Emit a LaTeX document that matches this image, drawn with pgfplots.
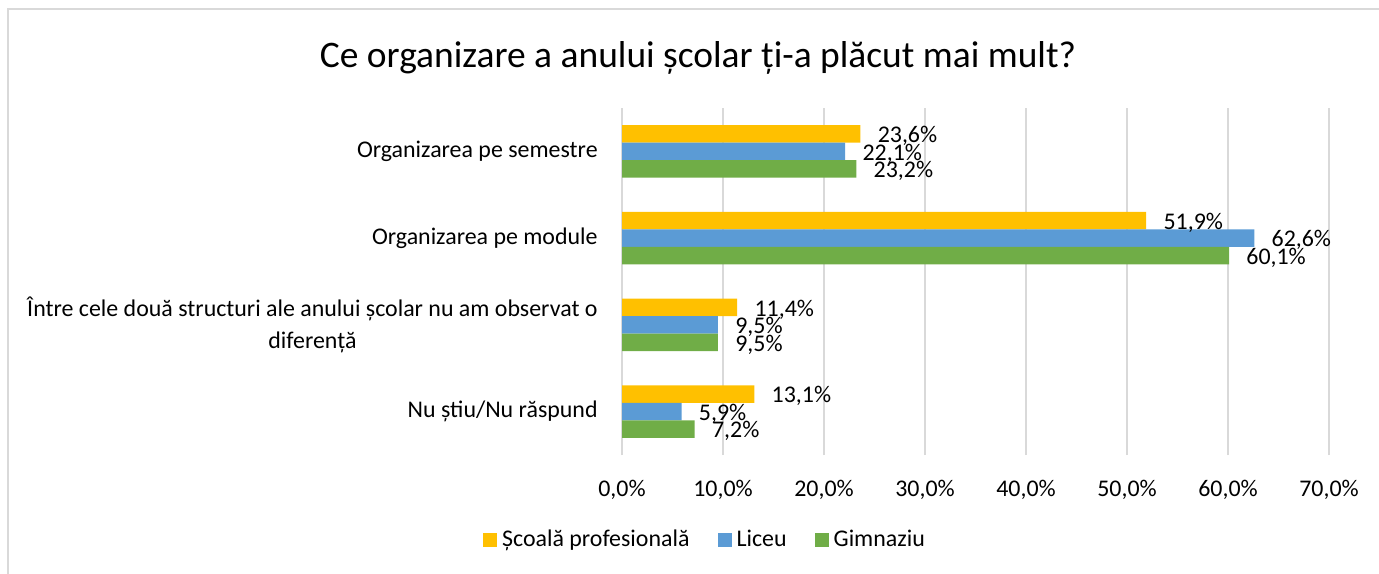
\documentclass[border=0pt]{standalone}
\usepackage{pgfplots}
\pgfplotsset{compat=1.18}
\usepackage{fontspec}
\setmainfont{Carlito}

\definecolor{cy}{HTML}{FFC000}
\definecolor{cb}{HTML}{5B9BD5}
\definecolor{cg}{HTML}{70AD47}
\definecolor{gridc}{HTML}{D9D9D9}

\pgfplotsset{sqlegend/.style={legend image code/.code={\fill[#1] (0bp,-3.5bp) rectangle (7bp,3.5bp);}}}

% cat: 3 = top category
\pgfplotstableread{
cat yel blu gre
3 23.6 22.1 23.2
2 51.9 62.6 60.1
1 11.4 9.5 9.5
0 13.1 5.9 7.2
}\datatable

\begin{document}
\begin{tikzpicture}
\path[use as bounding box] (0bp,0bp) rectangle (689.5bp,287bp);
\draw[gridc, line width=1bp] (4bp,0bp) -- (4bp,282.5bp) -- (689.5bp,282.5bp);
\node[font=\fontsize{18.8}{22}\selectfont] at (349bp,258bp) {Ce organizare a anului școlar ți-a plăcut mai mult?};
\begin{axis}[
  at={(311bp,59.5bp)}, anchor=south west,
  scale only axis, width=353.5bp, height=173.5bp,
  xbar, bar width=8.75bp,
  xmin=0, xmax=70, ymin=-0.5, ymax=3.5,
  ytick={0,1,2,3},
  yticklabels={Nu știu/Nu răspund, {Între cele două structuri ale anului școlar nu am observat o\\diferență}, Organizarea pe module, Organizarea pe semestre},
  xtick={0,10,20,30,40,50,60,70},
  xticklabels={{0,0\%},{10,0\%},{20,0\%},{30,0\%},{40,0\%},{50,0\%},{60,0\%},{70,0\%}},
  axis line style={draw=none},
  major tick length=0pt,
  tick style={draw=none},
  xmajorgrids, grid style={gridc, line width=1bp},
  yticklabel style={align=center, anchor=east, inner sep=0pt, xshift=-12bp, font=\fontsize{12}{16}\selectfont},
  xticklabel style={anchor=north, inner sep=0pt, yshift=-12.5bp, font=\fontsize{12}{14}\selectfont},
  nodes near coords={\pgfmathprintnumber[fixed, fixed zerofill, precision=1, use comma, assume math mode=true]{\pgfplotspointmeta}\%},
  nodes near coords style={anchor=west, inner sep=0pt, xshift=8.5bp, yshift=-1bp, font=\fontsize{12}{14}\selectfont},
  legend columns=3,
  legend style={draw=none, at={(0.116,-0.245)}, anchor=center, inner sep=0pt, font=\fontsize{12}{14}\selectfont,
    nodes={inner sep=0pt},
    /tikz/every odd column/.style={column sep=2.5bp},
    /tikz/every even column/.style={column sep=14bp}},
]
\addplot[fill=cy, draw=none, sqlegend, bar shift=8.75bp] table[x=yel, y=cat] {\datatable};
\addplot[fill=cb, draw=none, sqlegend, bar shift=0bp] table[x=blu, y=cat] {\datatable};
\addplot[fill=cg, draw=none, sqlegend, bar shift=-8.75bp] table[x=gre, y=cat] {\datatable};
\legend{Școală profesională, Liceu, Gimnaziu}
\end{axis}
\end{tikzpicture}
\end{document}
